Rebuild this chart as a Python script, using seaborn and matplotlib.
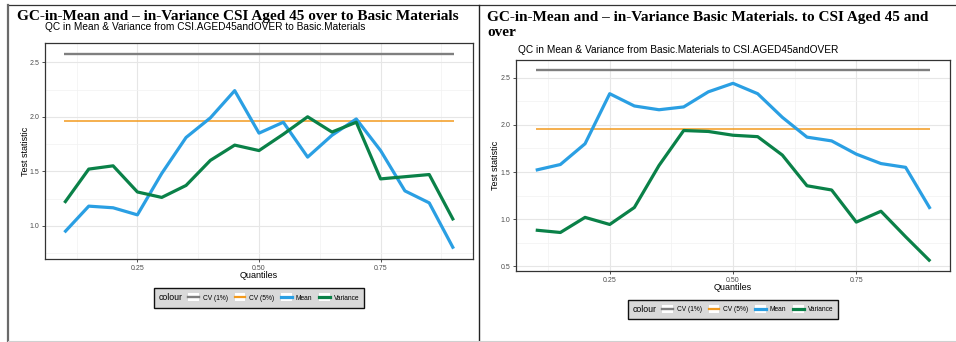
import numpy as np
import pandas as pd
import matplotlib
matplotlib.use('Agg')
import matplotlib.pyplot as plt
import seaborn as sns
from matplotlib.lines import Line2D
from matplotlib.patches import Rectangle
from matplotlib.legend_handler import HandlerLine2D
from matplotlib.offsetbox import HPacker
from matplotlib.ticker import AutoMinorLocator

# quantiles on the x axis
quantiles = [0.10, 0.15, 0.20, 0.25, 0.30, 0.35, 0.40, 0.45, 0.50,
             0.55, 0.60, 0.65, 0.70, 0.75, 0.80, 0.85, 0.90]

# critical values
cv_1pct = 2.576
cv_5pct = 1.96

# left: CSI aged 45 and over -> Basic Materials
left_mean = [0.94, 1.18, 1.165, 1.10, 1.48, 1.81, 1.99, 2.24, 1.85,
             1.95, 1.63, 1.83, 1.98, 1.69, 1.32, 1.21, 0.79]
left_var = [1.21, 1.52, 1.55, 1.31, 1.26, 1.37, 1.60, 1.74, 1.69,
            1.84, 2.00, 1.86, 1.95, 1.43, 1.45, 1.47, 1.05]

# right: Basic Materials -> CSI aged 45 and over
right_mean = [1.52, 1.58, 1.80, 2.33, 2.20, 2.16, 2.19, 2.35, 2.44,
              2.33, 2.08, 1.87, 1.83, 1.69, 1.59, 1.55, 1.11]
right_var = [0.885, 0.86, 1.02, 0.945, 1.125, 1.57, 1.94, 1.93, 1.89,
             1.875, 1.68, 1.355, 1.31, 0.97, 1.085, 0.815, 0.555]

headings = ['GC-in-Mean and \u2013 in-Variance CSI Aged 45 over to Basic Materials',
            'GC-in-Mean and \u2013 in-Variance Basic Materials. to CSI Aged 45 and\nover']
subtitles = ['QC in Mean & Variance from CSI.AGED45andOVER to Basic.Materials',
             'QC in Mean & Variance from Basic.Materials to CSI.AGED45andOVER']

series = ['CV (1%)', 'CV (5%)', 'Mean', 'Variance']
palette = {'CV (1%)': '#7f7f7f', 'CV (5%)': '#F29A1E',
           'Mean': '#2A9FE3', 'Variance': '#0A8148'}
widths = {'CV (1%)': 1.7, 'CV (5%)': 1.1, 'Mean': 2.3, 'Variance': 2.3}


def make_frame(mean, var):
    n = len(quantiles)
    return pd.DataFrame({
        'Quantiles': quantiles * 4,
        'value': [cv_1pct] * n + [cv_5pct] * n + list(mean) + list(var),
        'colour': [s for s in series for _ in range(n)],
    })


class KeyHandler(HandlerLine2D):
    # ggplot-like legend key: white square behind the line
    def create_artists(self, legend, orig_handle, xdescent, ydescent,
                       width, height, fontsize, trans):
        bg = Rectangle((-xdescent, -ydescent - 0.35 * height), width,
                       1.7 * height, facecolor='white', edgecolor='none',
                       transform=trans)
        arts = super().create_artists(legend, orig_handle, xdescent, ydescent,
                                      width, height, fontsize, trans)
        return [bg] + list(arts)


plt.rcParams['font.family'] = ['Liberation Sans', 'DejaVu Sans']
W, H = 956, 342
fig = plt.figure(figsize=(W / 100, H / 100), dpi=100)


def fx(px):
    return px / W


def fy(py):
    return 1 - py / H


# page frames
fig.add_artist(Line2D([fx(8), fx(956)], [fy(5), fy(5)], color='#333333', lw=0.9))
fig.add_artist(Line2D([fx(8), fx(8)], [fy(5), fy(341)], color='#6a6a6a', lw=1.6))
fig.add_artist(Line2D([fx(478.5), fx(478.5)], [fy(5), fy(341)], color='#222222', lw=1.0))
fig.add_artist(Line2D([fx(8), fx(956)], [fy(340.5), fy(340.5)], color='#d0d0d0', lw=0.8))

panels = [
    dict(mean=left_mean, var=left_var, box=(45, 43, 473, 259), ylim=(0.695, 2.677),
         yticks=[1.0, 1.5, 2.0, 2.5], head=(17, 16.5), sub=(45, 27.5),
         ylab_x=25.5, xlab_y=276, leg_y=298, leg_x=259),
    dict(mean=right_mean, var=right_var, box=(516, 60, 950, 271), ylim=(0.452, 2.687),
         yticks=[0.5, 1.0, 1.5, 2.0, 2.5], head=(487, 25), sub=(518, 50),
         ylab_x=495.5, xlab_y=287, leg_y=309.5, leg_x=733),
]

for i, p in enumerate(panels):
    x0, y0, x1, y1 = p['box']
    ax = fig.add_axes([fx(x0), fy(y1), fx(x1 - x0), (y1 - y0) / H])
    df = make_frame(p['mean'], p['var'])
    for s in series:
        sns.lineplot(data=df[df['colour'] == s], x='Quantiles', y='value',
                     color=palette[s], lw=widths[s], ax=ax, legend=False,
                     solid_capstyle='butt')
    ax.set_xlim(0.06, 0.94)
    ax.set_ylim(*p['ylim'])
    ax.set_xticks([0.25, 0.50, 0.75])
    ax.set_xticklabels(['0.25', '0.50', '0.75'])
    ax.set_yticks(p['yticks'])
    ax.set_yticklabels(['%.1f' % t for t in p['yticks']])
    ax.xaxis.set_minor_locator(AutoMinorLocator(2))
    ax.yaxis.set_minor_locator(AutoMinorLocator(2))
    ax.grid(which='major', color='#e6e6e6', lw=0.8)
    ax.grid(which='minor', color='#f2f2f2', lw=0.5)
    ax.set_axisbelow(True)
    ax.tick_params(which='major', length=2, width=0.6, color='#333333',
                   labelsize=5, labelcolor='#4d4d4d', pad=2)
    ax.tick_params(which='minor', length=0)
    for sp in ax.spines.values():
        sp.set_color('#333333')
        sp.set_linewidth(0.9)
    ax.set_xlabel('')
    ax.set_ylabel('')
    fig.text(fx(p['ylab_x']), fy((y0 + y1) / 2), 'Test statistic', rotation=90,
             ha='center', va='center', fontsize=6.5)
    fig.text(fx((x0 + x1) / 2), fy(p['xlab_y']), 'Quantiles', ha='center',
             va='center', fontsize=6.5)
    fig.text(fx(p['sub'][0]), fy(p['sub'][1]), subtitles[i], ha='left',
             va='center', fontsize=7.3)
    fig.text(fx(p['head'][0]), fy(p['head'][1]), headings[i], ha='left',
             va='center', fontsize=11, fontweight='bold',
             family='Liberation Serif', linespacing=1.3)

    handles = [Line2D([], [], color=palette[s], lw=widths[s] if s != 'CV (5%)' else 1.6)
               for s in series]
    leg = ax.legend(handles, series, title='colour', ncol=4, loc='center',
                    bbox_to_anchor=(fx(p['leg_x']), fy(p['leg_y'])),
                    bbox_transform=fig.transFigure, fontsize=4.8,
                    title_fontsize=6.3, frameon=True, fancybox=False,
                    facecolor='#d9d9d9', edgecolor='#111111', framealpha=1,
                    handlelength=1.6, handletextpad=0.6, columnspacing=1.0,
                    borderpad=1.0, handler_map={Line2D: KeyHandler()})
    leg.get_frame().set_linewidth(1.0)
    # put the legend title to the left of the keys, as ggplot does
    fs = leg._fontsize
    box = HPacker(pad=0.8 * fs, sep=0.8 * fs, align='center',
                  children=[leg._legend_title_box, leg._legend_handle_box])
    box.set_figure(fig)
    box.axes = ax
    box.set_offset(leg._findoffset)
    leg._legend_box = box

fig.savefig('out.png', dpi=100, facecolor='white')
